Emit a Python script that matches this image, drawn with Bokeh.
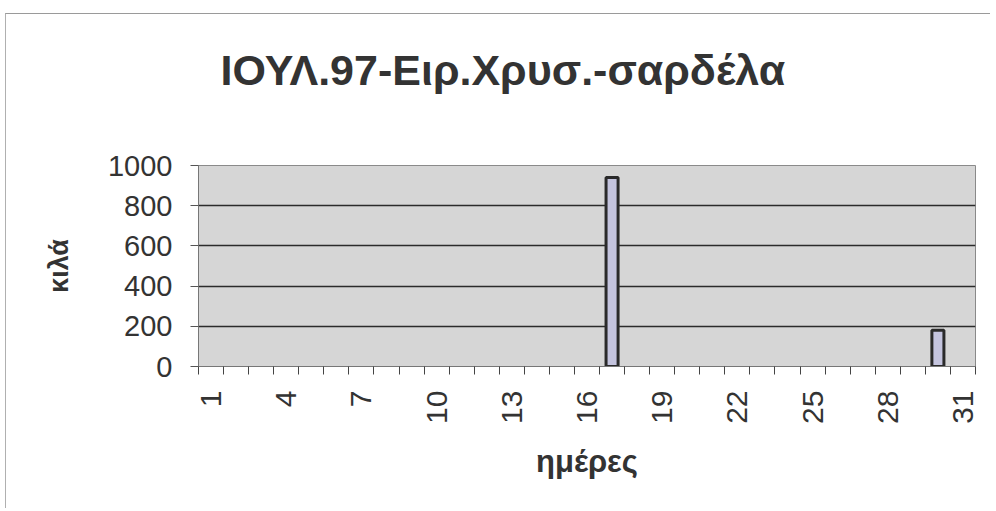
from bokeh.plotting import figure
from bokeh.models import FixedTicker, Range1d, ColumnDataSource, Title
from bokeh.embed import file_html
from bokeh.resources import INLINE
import math

title_text = "ΙΟΥΛ.97-Ειρ.Χρυσ.-σαρδέλα"
x_label = "ημέρες"
y_label = "κιλά"
days = [1, 2, 3, 4, 5, 6, 7, 8, 9, 10, 11, 12, 13, 14, 15, 16,
        17, 18, 19, 20, 21, 22, 23, 24, 25, 26, 27, 28, 29, 30, 31]
kilos = [0, 0, 0, 0, 0, 0, 0, 0, 0, 0, 0, 0, 0, 0, 0, 0,
         940, 0, 0, 0, 0, 0, 0, 0, 0, 0, 0, 0, 0, 180, 0]
x_tick_days = [1, 4, 7, 10, 13, 16, 19, 22, 25, 28, 31]
y_ticks = [0, 200, 400, 600, 800, 1000]

FONT = "Liberation Sans"
TXT = "#333333"

p = figure(width=985, height=495, output_backend="svg", toolbar_location=None,
           x_range=Range1d(0.5, 31.5), y_range=Range1d(0, 1000),
           min_border_left=192, min_border_right=16, min_border_top=151,
           min_border_bottom=143, background_fill_color="#d6d6d6",
           border_fill_color="white")
p.margin = (13, 0, 0, 5)
p.title.text = ""

# draw only the days that have a catch (zero bars would show as flat outlines)
nz = [i for i, v in enumerate(kilos) if v > 0]
src = ColumnDataSource(dict(x=[days[i] for i in nz], top=[kilos[i] for i in nz]))
p.vbar(x="x", top="top", width=0.48, source=src, fill_color="#c4c4de",
       line_color="#2a2a2a", line_width=3)

# blank spacer between frame and title, then the title itself
p.add_layout(Title(text=" ", text_font_size="10px", standoff=55), "above")
p.add_layout(Title(text=title_text, text_font=FONT, text_font_size="43px",
                   text_font_style="bold", text_color=TXT, align="left",
                   offset=22, standoff=8), "above")

p.outline_line_color = "#8a8a8a"
p.outline_line_width = 1

# grid
p.xgrid.grid_line_color = None
p.ygrid.ticker = FixedTicker(ticks=y_ticks)
p.ygrid.grid_line_color = "#2b2b2b"
p.ygrid.grid_line_width = 1.5

# x axis
xa = p.xaxis[0]
xa.ticker = FixedTicker(ticks=x_tick_days,
                        minor_ticks=[d - 0.5 for d in days] + [31.5])
xa.major_label_overrides = {d: str(d) for d in x_tick_days}
xa.major_tick_out = 0
xa.major_tick_in = 0
xa.minor_tick_out = 8
xa.minor_tick_in = 0
xa.minor_tick_line_color = "#444444"
xa.axis_line_color = "#777777"
xa.major_label_orientation = math.pi / 2
xa.major_label_standoff = 16
xa.major_label_text_font = FONT
xa.major_label_text_font_size = "30px"
xa.major_label_text_color = TXT
xa.axis_label = x_label
xa.axis_label_text_font = FONT
xa.axis_label_text_font_size = "31px"
xa.axis_label_text_font_style = "bold"
xa.axis_label_text_color = TXT
xa.axis_label_standoff = 17

# y axis
ya = p.yaxis[0]
ya.ticker = FixedTicker(ticks=y_ticks)
ya.major_tick_out = 8
ya.major_tick_in = 0
ya.minor_tick_out = 0
ya.minor_tick_in = 0
ya.major_tick_line_color = "#555555"
ya.axis_line_color = "#777777"
ya.major_label_standoff = 18
ya.major_label_text_font = FONT
ya.major_label_text_font_size = "29px"
ya.major_label_text_color = TXT
ya.axis_label = y_label
ya.axis_label_text_font = FONT
ya.axis_label_text_font_size = "27px"
ya.axis_label_text_font_style = "bold"
ya.axis_label_text_color = TXT
ya.axis_label_standoff = 31

p.styles = {"border-top": "1px solid #9a9a9a", "border-left": "1px solid #b0b0b0"}

open("out.html", "w").write(file_html(p, INLINE))
